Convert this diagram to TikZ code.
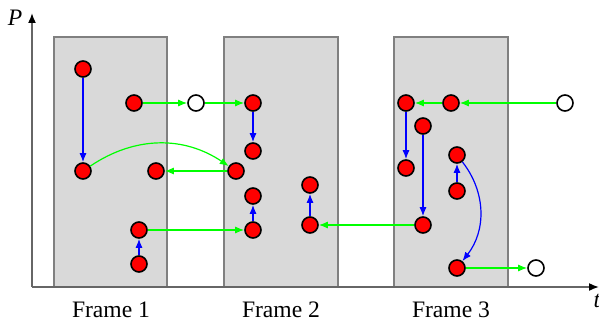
\documentclass[tikz,border=0pt]{standalone}
\usepackage{fontspec}
\setmainfont{Liberation Serif}
\newfontfamily\tms{Liberation Serif}
\usetikzlibrary{arrows.meta}
\begin{document}
\begin{tikzpicture}[x=0.5pt,y=0.5pt,
  dot/.style={circle,draw=black,line width=0.8pt,fill=red,minimum size=8pt,inner sep=0pt},
  hole/.style={circle,draw=black,line width=0.8pt,fill=white,minimum size=8pt,inner sep=0pt},
  frm/.style={draw=black!50,line width=1.2pt,fill=black!15},
  bl/.style={draw=blue,line width=0.6pt,-{Latex[length=4.5pt,width=3.5pt]}},
  gr/.style={draw=green,line width=0.6pt,-{Latex[length=4.5pt,width=3.5pt]}},
  ax/.style={draw=black!60,line width=0.8pt,-{Latex[length=5pt,width=4pt,color=black]}},
  lbl/.style={font=\tms\fontsize{11.8}{14}\selectfont,inner sep=0pt}]
\useasboundingbox (0,0) rectangle (599,322);
% frames
\draw[frm] (54,35) rectangle (167,285);
\draw[frm] (224,35) rectangle (338,285);
\draw[frm] (394,35) rectangle (508,285);
% axes
\coordinate (o) at (32,35);
\coordinate (ytip) at (32,309);
\coordinate (xtip) at (599,35);
\draw[ax] (o) -- (ytip);
\draw[ax] (o) -- (xtip);
\node[lbl,font=\tms\fontsize{11.8}{14}\selectfont\itshape] (P) at (15,304) {P};
\node[lbl,font=\tms\fontsize{11.8}{14}\selectfont\itshape] (t) at (597,21) {t};
\node[lbl] (f1) at (111,12) {Frame 1};
\node[lbl] (f2) at (281,12) {Frame 2};
\node[lbl] (f3) at (451,12) {Frame 3};
% nodes
\node[dot] (A1) at (83,253) {};
\node[dot] (A2) at (134,219) {};
\node[dot] (A3) at (83,151) {};
\node[dot] (A4) at (156,151) {};
\node[dot] (A5) at (139,92) {};
\node[dot] (A6) at (139,58) {};
\node[hole] (O1) at (196,219) {};
\node[dot] (B1) at (253,219) {};
\node[dot] (B2) at (253,171) {};
\node[dot] (B3) at (236,151) {};
\node[dot] (B4) at (253,126) {};
\node[dot] (B5) at (253,92) {};
\node[dot] (C1) at (310,137) {};
\node[dot] (C2) at (310,97) {};
\node[dot] (D1) at (406,219) {};
\node[dot] (D2) at (451,219) {};
\node[hole] (O2) at (565,219) {};
\node[dot] (D3) at (423,196) {};
\node[dot] (D4) at (406,154) {};
\node[dot] (D5) at (457,167) {};
\node[dot] (D6) at (457,131) {};
\node[dot] (D7) at (423,97) {};
\node[dot] (D8) at (457,54) {};
\node[hole] (O3) at (536,54) {};
% blue
\draw[bl] (A1) -- (A3);
\draw[bl] (A6) -- (A5);
\draw[bl] (B1) -- (B2);
\draw[bl] (B5) -- (B4);
\draw[bl] (C2) -- (C1);
\draw[bl] (D1) -- (D4);
\draw[bl] (D3) -- (D7);
\draw[bl] (D6) -- (D5);
\draw[bl] (D5) to[bend left=38] (D8);
% green
\draw[gr] (A2) -- (O1);
\draw[gr] (O1) -- (B1);
\draw[gr] (A3) to[bend left=34] (B3);
\draw[gr] (B3) -- (A4);
\draw[gr] (A5) -- (B5);
\draw[gr] (D7) -- (C2);
\draw[gr] (O2) -- (D2);
\draw[gr] (D2) -- (D1);
\draw[gr] (D8) -- (O3);
\end{tikzpicture}
\end{document}
